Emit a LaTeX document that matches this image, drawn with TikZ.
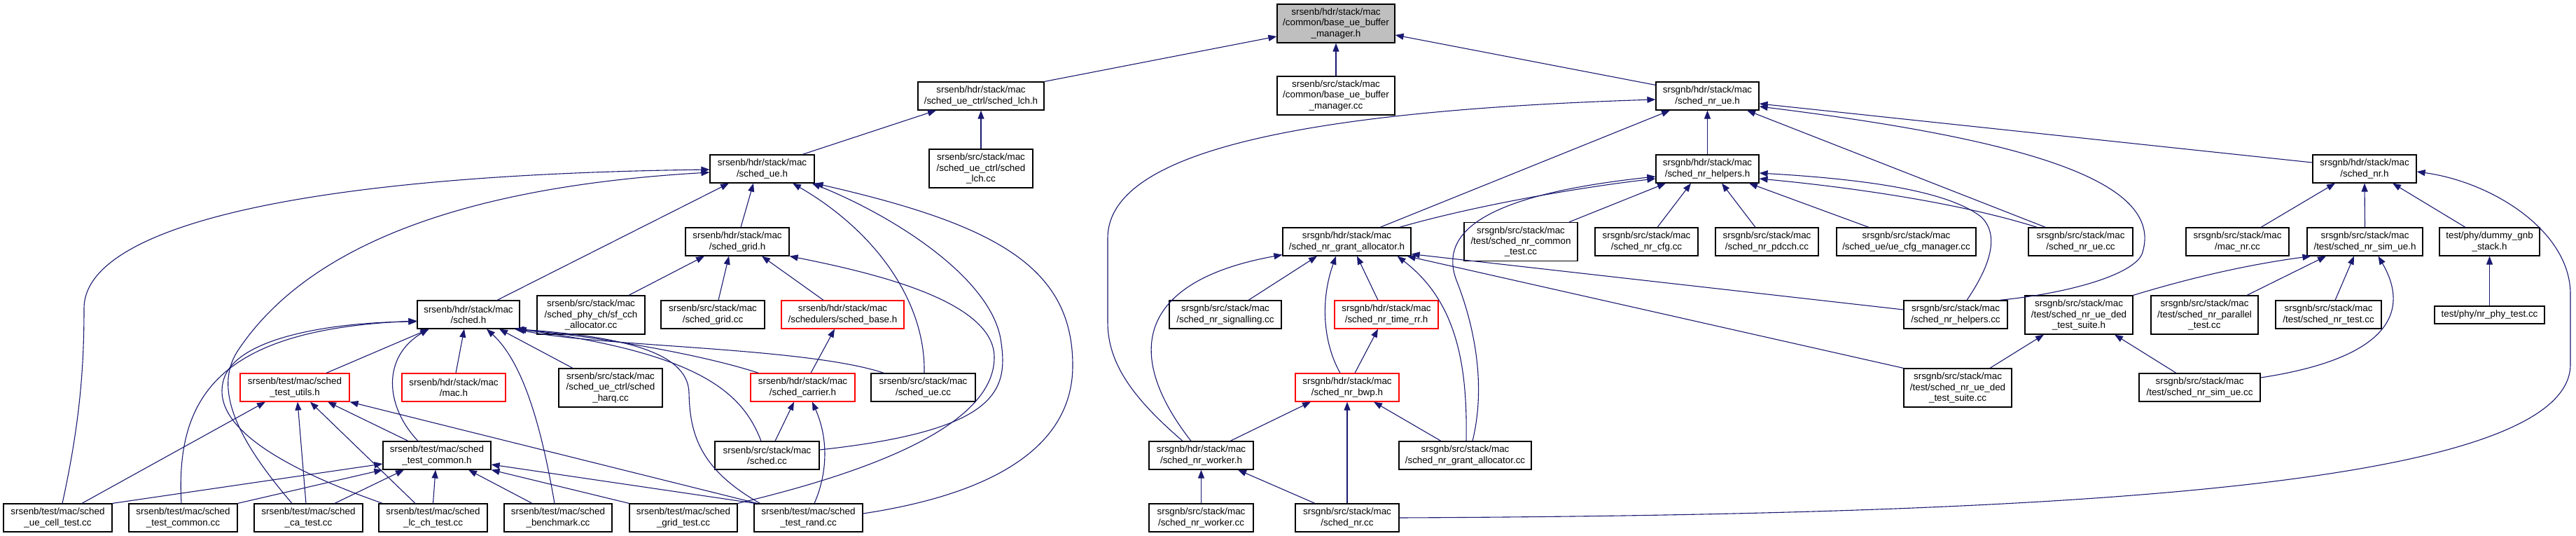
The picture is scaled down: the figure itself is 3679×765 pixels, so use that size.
\documentclass[tikz,border=0pt]{standalone}
\usepackage{fontspec}
\setmainfont{Liberation Sans}
\usetikzlibrary{arrows.meta}
\definecolor{navyc}{HTML}{191970}
\definecolor{rootgray}{HTML}{BFBFBF}
\newcommand{\fsz}{\fontsize{13.4pt}{15.3pt}\selectfont}
\tikzset{
  bx/.style={draw=black, line width=1.2pt, fill=white, inner sep=0pt, align=center, font=\fsz},
  hb/.style={draw=red},
  ha/.style={minimum height=25pt},
  hh/.style={minimum height=40pt},
  hc/.style={minimum height=55pt},
  lnk/.style={draw=navyc, line width=1.1pt, -{Triangle[length=12pt,width=9pt]}}
}
\begin{document}
\begin{tikzpicture}[x=1pt,y=-1pt]
\useasboundingbox (0,0) rectangle (3679,765);
% row 1
\node[bx,hc,fill=rootgray,minimum width=168pt] (R) at (1908,33.5) {srsenb/hdr/stack/mac\\/common/base\_ue\_buffer\\\_manager.h};
% row 2
\node[bx,hh,minimum width=180pt] (lchh) at (1401,137) {srsenb/hdr/stack/mac\\/sched\_ue\_ctrl/sched\_lch.h};
\node[bx,hc,minimum width=168pt] (bubcc) at (1908,136.5) {srsenb/src/stack/mac\\/common/base\_ue\_buffer\\\_manager.cc};
\node[bx,hh,minimum width=147pt] (nrueh) at (2438.5,137) {srsgnb/hdr/stack/mac\\/sched\_nr\_ue.h};
% row 3
\node[bx,hh,minimum width=149pt] (ueh) at (1088.5,241) {srsenb/hdr/stack/mac\\/sched\_ue.h};
\node[bx,hc,minimum width=148pt] (lchcc) at (1401,240.5) {srsenb/src/stack/mac\\/sched\_ue\_ctrl/sched\\\_lch.cc};
\node[bx,hh,minimum width=147pt] (helpersh) at (2438.5,241) {srsgnb/hdr/stack/mac\\/sched\_nr\_helpers.h};
\node[bx,hh,minimum width=148pt] (nrh) at (3377,241) {srsgnb/hdr/stack/mac\\/sched\_nr.h};
% row 4
\node[bx,hh,minimum width=148pt] (gridh) at (1053,345) {srsenb/hdr/stack/mac\\/sched\_grid.h};
\node[bx,hh,minimum width=183pt] (gah) at (1923.5,345) {srsgnb/hdr/stack/mac\\/sched\_nr\_grant\_allocator.h};
\node[bx,hc,minimum width=162pt] (commontest) at (2172,345) {srsgnb/src/stack/mac\\/test/sched\_nr\_common\\\_test.cc};
\node[bx,hh,minimum width=147pt] (cfgcc) at (2351.5,345) {srsgnb/src/stack/mac\\/sched\_nr\_cfg.cc};
\node[bx,hh,minimum width=147pt] (pdcchcc) at (2523.5,345) {srsgnb/src/stack/mac\\/sched\_nr\_pdcch.cc};
\node[bx,hh,minimum width=199pt] (uecfg) at (2722.5,345) {srsgnb/src/stack/mac\\/sched\_ue/ue\_cfg\_manager.cc};
\node[bx,hh,minimum width=149pt] (nruecc) at (2971.5,345) {srsgnb/src/stack/mac\\/sched\_nr\_ue.cc};
\node[bx,hh,minimum width=147pt] (macnr) at (3195.5,345) {srsgnb/src/stack/mac\\/mac\_nr.cc};
\node[bx,hh,minimum width=165pt] (simueh) at (3377.5,345) {srsgnb/src/stack/mac\\/test/sched\_nr\_sim\_ue.h};
\node[bx,hh,minimum width=143pt] (dummy) at (3555.5,345) {test/phy/dummy\_gnb\\\_stack.h};
% row 5
\node[bx,hh,minimum width=146pt] (schedh) at (669,449) {srsenb/hdr/stack/mac\\/sched.h};
\node[bx,hc,minimum width=154pt] (sfcch) at (844,449.5) {srsenb/src/stack/mac\\/sched\_phy\_ch/sf\_cch\\\_allocator.cc};
\node[bx,hh,minimum width=148pt] (gridcc) at (1018,449) {srsenb/src/stack/mac\\/sched\_grid.cc};
\node[bx,hh,hb,minimum width=175pt] (baseh) at (1203.5,449) {srsenb/hdr/stack/mac\\/schedulers/sched\_base.h};
\node[bx,hh,minimum width=160pt] (signalling) at (1750,449) {srsgnb/src/stack/mac\\/sched\_nr\_signalling.cc};
\node[bx,hh,hb,minimum width=148pt] (timerr) at (1980,449) {srsgnb/hdr/stack/mac\\/sched\_nr\_time\_rr.h};
\node[bx,hh,minimum width=148pt] (helperscc) at (2793,449) {srsgnb/src/stack/mac\\/sched\_nr\_helpers.cc};
\node[bx,hc,minimum width=154pt] (dedh) at (2969,449.5) {srsgnb/src/stack/mac\\/test/sched\_nr\_ue\_ded\\\_test\_suite.h};
\node[bx,hc,minimum width=153pt] (parallel) at (3148.5,449.5) {srsgnb/src/stack/mac\\/test/sched\_nr\_parallel\\\_test.cc};
\node[bx,hh,minimum width=151pt] (nrtest) at (3325.5,449) {srsgnb/src/stack/mac\\/test/sched\_nr\_test.cc};
\node[bx,ha,minimum width=157pt] (phytest) at (3555.5,449.5) {test/phy/nr\_phy\_test.cc};
% row 6
\node[bx,hh,hb,minimum width=156pt] (utilsh) at (421,553) {srsenb/test/mac/sched\\\_test\_utils.h};
\node[bx,hh,hb,minimum width=148pt] (mach) at (648,553) {srsenb/hdr/stack/mac\\/mac.h};
\node[bx,hc,minimum width=148pt] (harq) at (872,553.5) {srsenb/src/stack/mac\\/sched\_ue\_ctrl/sched\\\_harq.cc};
\node[bx,hh,hb,minimum width=149pt] (carrier) at (1146.5,553) {srsenb/hdr/stack/mac\\/sched\_carrier.h};
\node[bx,hh,minimum width=149pt] (uecc) at (1318.5,553) {srsenb/src/stack/mac\\/sched\_ue.cc};
\node[bx,hh,hb,minimum width=148pt] (bwp) at (1924,553) {srsgnb/hdr/stack/mac\\/sched\_nr\_bwp.h};
\node[bx,hc,minimum width=154pt] (dedcc) at (2796,553.5) {srsgnb/src/stack/mac\\/test/sched\_nr\_ue\_ded\\\_test\_suite.cc};
\node[bx,hh,minimum width=173pt] (simuecc) at (3141.5,553) {srsgnb/src/stack/mac\\/test/sched\_nr\_sim\_ue.cc};
% row 7
\node[bx,hh,minimum width=154pt] (commonh) at (624,650) {srsenb/test/mac/sched\\\_test\_common.h};
\node[bx,hh,minimum width=149pt] (schedcc) at (1095.5,650) {srsenb/src/stack/mac\\/sched.cc};
\node[bx,hh,minimum width=149pt] (workerh) at (1715.5,650) {srsgnb/hdr/stack/mac\\/sched\_nr\_worker.h};
\node[bx,hh,minimum width=189pt] (gacc) at (2092.5,650) {srsgnb/src/stack/mac\\/sched\_nr\_grant\_allocator.cc};
% row 8
\node[bx,hh,minimum width=155pt] (uecell) at (82.5,739) {srsenb/test/mac/sched\\\_ue\_cell\_test.cc};
\node[bx,hh,minimum width=155pt] (commoncc) at (261.5,739) {srsenb/test/mac/sched\\\_test\_common.cc};
\node[bx,hh,minimum width=155pt] (catest) at (440.5,739) {srsenb/test/mac/sched\\\_ca\_test.cc};
\node[bx,hh,minimum width=155pt] (lcch) at (618.5,739) {srsenb/test/mac/sched\\\_lc\_ch\_test.cc};
\node[bx,hh,minimum width=154pt] (bench) at (797,739) {srsenb/test/mac/sched\\\_benchmark.cc};
\node[bx,hh,minimum width=154pt] (gridtest) at (976,739) {srsenb/test/mac/sched\\\_grid\_test.cc};
\node[bx,hh,minimum width=155pt] (rand) at (1154.5,739) {srsenb/test/mac/sched\\\_test\_rand.cc};
\node[bx,hh,minimum width=149pt] (workercc) at (1715.5,739) {srsgnb/src/stack/mac\\/sched\_nr\_worker.cc};
\node[bx,hh,minimum width=148pt] (nrcc) at (1924,739) {srsgnb/src/stack/mac\\/sched\_nr.cc};

% ---------- edges (child -> included header) ----------
\draw[lnk] (lchh.north east) -- ([yshift=-18.5pt]R.west);
\draw[lnk] (bubcc.north) -- (R.south);
\draw[lnk] ([yshift=-5pt]nrueh.north west) -- ([yshift=-16.5pt]R.east);
\draw[lnk] ([xshift=57.5pt]ueh.north) -- ([xshift=-64pt]lchh.south);
\draw[lnk] (lchcc.north) -- (lchh.south);
\draw[lnk] ([xshift=6.5pt]uecell.north) .. controls (115,600) and (120,520) .. (120,440) .. controls (120,330) and (400,250) .. ([yshift=-1pt]ueh.west);
\draw[lnk] ([xshift=-23.5pt]catest.north) .. controls (350,640) and (300,560) .. (340,500) .. controls (420,380) and (600,270) .. ([yshift=-5pt]ueh.west);
\draw[lnk] ([xshift=41pt]schedh.north) -- ([xshift=-47.5pt]ueh.south);
\draw[lnk] ([xshift=5pt]gridh.north) -- ([xshift=-12.5pt]ueh.south);
\draw[lnk] ([xshift=1.5pt]uecc.north) .. controls (1322,430) and (1250,330) .. ([xshift=43.5pt]ueh.south);
\draw[lnk] ([yshift=8pt]schedcc.east) .. controls (1420,615) and (1440,560) .. (1430,490) .. controls (1420,400) and (1280,310) .. ([xshift=-4pt]ueh.south east);
\draw[lnk] ([yshift=6pt]rand.east) .. controls (1450,700) and (1533,620) .. (1532,520) .. controls (1531,380) and (1420,320) .. (ueh.south east);
\draw[lnk] ([xshift=54pt]sfcch.north) -- ([xshift=-47pt]gridh.south);
\draw[lnk] ([xshift=8pt]gridcc.north) -- ([xshift=-12pt]gridh.south);
\draw[lnk] ([xshift=-27.5pt]baseh.north) -- ([xshift=35pt]gridh.south);
\draw[lnk] (gridtest.north east) .. controls (1300,660) and (1420,590) .. (1420,510) .. controls (1420,430) and (1250,390) .. (gridh.south east);
\draw[lnk] ([xshift=45pt]utilsh.north) -- ([xshift=-56pt]schedh.south);
\draw[lnk] ([xshift=-27pt]commonh.north) .. controls (550,580) and (545,510) .. ([xshift=-57pt]schedh.south);
\draw[lnk] ([xshift=3pt]mach.north) -- ([xshift=-6pt]schedh.south);
\draw[lnk] ([xshift=-5pt]bench.north) .. controls (775,620) and (750,520) .. ([xshift=26pt]schedh.south);
\draw[lnk] ([xshift=-54pt]harq.north) -- ([xshift=44pt]schedh.south);
\draw[lnk] ([xshift=12pt]carrier.north west) .. controls (1000,505) and (850,480) .. ([xshift=-8pt]schedh.south east);
\draw[lnk] ([xshift=19pt]uecc.north west) .. controls (1150,495) and (850,495) .. ([xshift=-5pt]schedh.south east);
\draw[lnk] ([xshift=-8.5pt]schedcc.north) .. controls (1060,560) and (1000,505) .. ([xshift=-3pt]schedh.south east);
\draw[lnk] ([xshift=9pt]rand.north west) .. controls (1000,670) and (985,620) .. (984,560) .. controls (982,500) and (880,480) .. ([xshift=-6pt]schedh.south east);
\draw[lnk] ([xshift=-2.5pt]commoncc.north) .. controls (250,560) and (320,470) .. ([yshift=-9pt]schedh.west);
\draw[lnk] ([xshift=6pt]lcch.north west) .. controls (380,660) and (300,600) .. (320,540) .. controls (340,480) and (480,460) .. ([yshift=-10pt]schedh.west);
\draw[lnk] ([xshift=34.5pt]uecell.north) -- ([xshift=-42pt]utilsh.south);
\draw[lnk] ([xshift=-3.5pt]catest.north) -- ([xshift=4pt]utilsh.south);
\draw[lnk] ([xshift=-25.5pt]lcch.north) -- ([xshift=22pt]utilsh.south);
\draw[lnk] ([xshift=-41pt]commonh.north) -- ([xshift=47pt]utilsh.south);
\draw[lnk] ([xshift=5pt]rand.north west) -- (utilsh.south east);
\draw[lnk] (uecell.north east) -- ([yshift=-12pt]commonh.west);
\draw[lnk] (commoncc.north east) -- (commonh.south west);
\draw[lnk] ([xshift=37.5pt]catest.north) -- ([xshift=-47pt]commonh.south);
\draw[lnk] (lcch.north) -- ([xshift=-2pt]commonh.south);
\draw[lnk] ([xshift=-37pt]bench.north) -- ([xshift=45pt]commonh.south);
\draw[lnk] (gridtest.north west) -- (commonh.south east);
\draw[lnk] ([xshift=2pt]rand.north west) -- ([yshift=-13pt]commonh.east);
\draw[lnk] ([xshift=11.5pt]carrier.north) -- ([xshift=-11.5pt]baseh.south);
\draw[lnk] ([xshift=11.5pt]schedcc.north) -- ([xshift=-12.5pt]carrier.south);
\draw[lnk] ([xshift=8.5pt]rand.north) .. controls (1180,680) and (1185,630) .. ([xshift=13.5pt]carrier.south);
% srsgnb side
\draw[lnk] ([xshift=-26.5pt]workerh.north) .. controls (1620,570) and (1582,520) .. (1582,460) -- (1582,340) .. controls (1582,230) and (1800,160) .. ([yshift=-5pt]nrueh.west);
\draw[lnk] ([xshift=-14.5pt]workerh.north) .. controls (1600,500) and (1630,400) .. ([yshift=2pt]gah.south west);
\draw[lnk] ([xshift=41.5pt]workerh.north) -- ([xshift=-52pt]bwp.south);
\draw[lnk] (workercc.north) -- (workerh.south);
\draw[lnk] ([xshift=-46pt]nrcc.north) -- ([xshift=52.5pt]workerh.south);
\draw[lnk] (nrcc.north) -- (bwp.south);
\draw[lnk] (nrcc.east) .. controls (2900,735) and (3671,700) .. (3671,520) -- (3671,420) .. controls (3671,330) and (3560,260) .. ([yshift=-4pt]nrh.east);
\draw[lnk] (helpersh.north) -- (nrueh.south);
\draw[lnk] ([xshift=47.5pt]gah.north) -- ([xshift=-53.5pt]nrueh.south);
\draw[lnk] ([xshift=-17pt]gah.north east) .. controls (2100,295) and (2250,268) .. ([yshift=-14pt]helpersh.west);
\draw[lnk] ([xshift=10.5pt]gacc.north) .. controls (2125,540) and (2100,450) .. (2080,400) .. controls (2050,320) and (2150,275) .. ([yshift=-11pt]helpersh.west);
\draw[lnk] ([xshift=69pt]commontest.north) -- ([xshift=-59.5pt]helpersh.south);
\draw[lnk] ([xshift=15.5pt]cfgcc.north) -- ([xshift=-23.5pt]helpersh.south);
\draw[lnk] ([xshift=-16.5pt]pdcchcc.north) -- ([xshift=20.5pt]helpersh.south);
\draw[lnk] ([xshift=-53.5pt]uecfg.north) -- ([xshift=59.5pt]helpersh.south);
\draw[lnk] ([yshift=9pt]nrh.west) -- ([yshift=-11pt]nrueh.east);
\draw[lnk] ([xshift=-12pt]helperscc.north east) .. controls (2960,418) and (3052,390) .. (3060,360) .. controls (3090,260) and (2900,200) .. ([yshift=-15pt]nrueh.east);
\draw[lnk] ([xshift=16pt]helperscc.north) .. controls (2835,390) and (2860,340) .. (2830,310) .. controls (2780,270) and (2650,255) .. ([yshift=-6pt]helpersh.east);
\draw[lnk] ([xshift=25pt]nruecc.north west) -- ([xshift=56.5pt]nrueh.south);
\draw[lnk] ([xshift=13pt]nruecc.north west) .. controls (2800,290) and (2650,268) .. ([yshift=-14pt]helpersh.east);
\draw[lnk] ([xshift=33pt]signalling.north) -- ([xshift=-42.5pt]gah.south);
\draw[lnk] ([xshift=-10pt]bwp.north) .. controls (1890,490) and (1885,430) .. ([xshift=-15.5pt]gah.south);
\draw[lnk] ([xshift=-12pt]timerr.north) -- ([xshift=14.5pt]gah.south);
\draw[lnk] ([xshift=11pt]bwp.north) -- ([xshift=-12pt]timerr.south);
\draw[lnk] ([xshift=1.5pt]gacc.north) .. controls (2096,520) and (2080,430) .. ([xshift=-20pt]gah.south east);
\draw[lnk] ([xshift=-34.5pt]gacc.north) -- ([xshift=38pt]bwp.south);
\draw[lnk] (dedcc.north west) -- ([xshift=-6pt]gah.south east);
\draw[lnk] ([yshift=7pt]helperscc.west) -- ([yshift=3pt]gah.south east);
\draw[lnk] (dedh.north east) .. controls (3150,390) and (3230,375) .. ([xshift=6pt]simueh.south west);
\draw[lnk] ([xshift=60.5pt]parallel.north) -- ([xshift=-55.5pt]simueh.south);
\draw[lnk] ([xshift=9.5pt]nrtest.north) -- ([xshift=-15.5pt]simueh.south);
\draw[lnk] ([yshift=14pt]simuecc.east) .. controls (3420,510) and (3440,440) .. ([xshift=19pt]simueh.south);
\draw[lnk] ([xshift=46pt]dedcc.north) -- ([xshift=-50pt]dedh.south);
\draw[lnk] ([xshift=-33.5pt]simuecc.north) -- ([xshift=51pt]dedh.south);
\draw[lnk] ([xshift=33.5pt]macnr.north) -- ([xshift=-42pt]nrh.south);
\draw[lnk] (simueh.north) -- (nrh.south);
\draw[lnk] ([xshift=-34.5pt]dummy.north) -- ([xshift=40pt]nrh.south);
\draw[lnk] (phytest.north) -- (dummy.south);
\end{tikzpicture}
\end{document}
